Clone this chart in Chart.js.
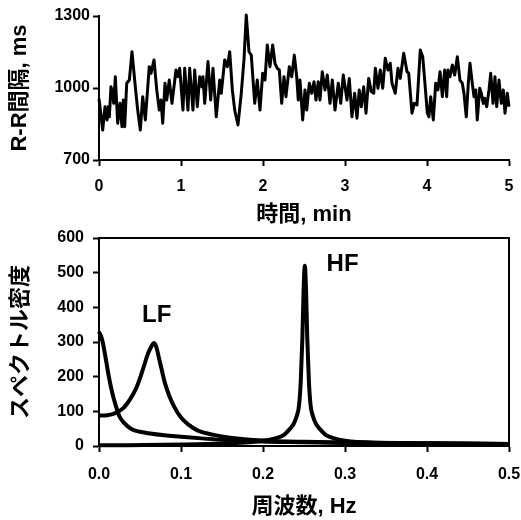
<!DOCTYPE html>
<html><head><meta charset="utf-8">
<script src="https://cdn.jsdelivr.net/npm/chart.js@4.4.1/dist/chart.umd.min.js"></script>
<style>
html,body{margin:0;padding:0;background:#fff;}
#wrap{position:relative;width:521px;height:520px;}
canvas{position:absolute;left:0;}
</style></head><body>
<div id="wrap">
<canvas id="c1" width="521" height="230" style="top:0"></canvas>
<canvas id="c2" width="521" height="290" style="top:230px"></canvas>
</div>
<script>
// ---- Top panel: R-R interval time series ----
const rrTime = [0.000,0.045,0.073,0.098,0.113,0.126,0.146,0.167,0.179,0.199,0.228,0.256,0.280,0.296,0.313,0.338,0.370,0.402,0.443,0.472,0.504,0.533,0.565,0.613,0.634,0.671,0.704,0.735,0.756,0.777,0.805,0.826,0.857,0.890,0.939,0.960,
0.984,1.024,1.045,1.085,1.106,1.146,1.167,1.199,1.228,1.256,1.268,1.289,1.329,1.362,1.390,1.430,1.472,1.491,1.533,1.565,1.594,1.626,1.655,1.695,1.735,1.768,1.796,1.829,1.857,1.899,1.930,
1.963,1.996,2.024,2.052,2.085,2.118,2.146,2.174,2.199,2.228,2.256,2.280,2.321,2.350,2.382,2.411,2.430,2.451,2.484,2.512,2.533,2.565,2.594,2.622,2.646,2.674,2.695,2.723,2.756,2.784,2.817,2.845,2.878,2.918,2.948,2.979,
3.024,3.052,3.085,3.118,3.146,3.174,3.199,3.228,3.256,3.289,3.321,3.350,3.370,3.402,3.430,3.460,3.491,3.524,3.552,3.573,3.613,3.646,3.674,3.716,3.756,3.777,3.817,3.845,3.878,3.918,3.948,3.970,
4.004,4.024,4.045,4.077,4.106,4.134,4.159,4.187,4.216,4.240,4.256,4.280,4.309,4.338,4.370,4.402,4.430,4.451,4.479,4.504,4.524,4.552,4.573,4.594,4.613,4.643,4.662,4.687,4.704,4.728,4.756,4.777,4.805,4.829,4.850,4.878,4.906,4.930,4.951,4.979,5.000];
const rrValue = [955,825,922,867,922,880,1005,978,936,1047,853,936,839,950,839,1020,1033,1151,1005,908,825,964,867,1089,1061,1117,992,908,950,853,1020,950,1033,936,1075,1047,
1082,908,1082,908,1082,908,1075,922,1047,1005,1047,936,1110,950,1082,880,1033,978,1117,1089,1151,992,908,846,978,1117,1304,1151,1137,936,1033,
908,1061,1033,1179,1089,1179,1103,1082,1075,936,1047,964,1089,1047,1137,1047,950,1033,867,992,908,1020,978,1026,950,1026,950,1068,992,1054,936,1033,908,1020,936,1054,
950,1040,880,978,874,992,922,1005,895,1040,985,978,1082,999,1075,999,1124,1075,1103,1020,978,1082,1040,1145,1068,1061,895,936,929,1158,1130,1040,
895,880,964,867,1020,992,1068,964,1075,964,1075,1047,1096,1054,1130,1033,1020,978,880,1020,1103,1020,964,992,867,999,978,936,957,922,992,1061,936,1047,922,1033,936,992,895,978,922];
const topXTicks = [0,1,2,3,4,5];
const topYTicks = [700,1000,1300];

// ---- Bottom panel: spectral density ----
const vlfFreq  = [0,0.004,0.008,0.012,0.016,0.02,0.025,0.03,0.04,0.05,0.06,0.08,0.1,0.125,0.15,0.2,0.25,0.3,0.4,0.5];
const vlfPower = [330,305,255,200,155,120,85,68,48,41,37,31,27,22,18,13,11,9,7,6];
const lfFreq   = [0,0.01,0.02,0.03,0.038,0.045,0.05,0.055,0.06,0.064,0.067,0.070,0.073,0.076,0.08,0.086,0.092,0.1,0.11,0.12,0.14,0.16,0.2,0.25,0.3,0.4,0.5];
const lfPower  = [88,89,95,110,135,165,196,232,268,288,297,285,255,225,185,143,112,82,60,45,32,24,16,12,10,8,6];
const hfFreq   = [0,0.1,0.15,0.2,0.219,0.226,0.233,0.237,0.241,0.244,0.246,0.248,0.2495,0.251,0.2525,0.254,0.256,0.258,0.261,0.265,0.269,0.276,0.283,0.3,0.35,0.4,0.5];
const hfPower  = [2,4,7,15,25,33,50,62,85,118,185,310,450,520,450,310,185,118,85,62,50,33,25,15,9,7,5];
const botXTicks = [0,0.1,0.2,0.3,0.4,0.5];
const botYTicks = [0,100,200,300,400,500,600];
const peakLabels = ['LF','HF'];
const peakLabelX = [0.0704,0.297];
const peakLabelY = [378,525];

const FONT = "'Liberation Sans', Arial, 'Noto Sans CJK JP', sans-serif";
Chart.defaults.font.family = FONT;
Chart.defaults.font.weight = 'bold';
Chart.defaults.color = '#000';

const pts = (xs, ys) => xs.map((x, i) => ({x: x, y: ys[i]}));
const setTicks = arr => s => { s.ticks = arr.map(v => ({value: v})); };
const fixSize = (prop, size) => s => {
  s[prop] = size;
  s.paddingLeft = 0; s.paddingRight = 0; s.paddingTop = 0; s.paddingBottom = 0;
};

function axis(opts) {
  return Object.assign({
    type: 'linear',
    grid: {drawOnChartArea: false, drawTicks: true, tickLength: 6, tickWidth: 2, tickColor: '#000'},
    border: {display: true, color: '#000', width: 2},
  }, opts);
}

new Chart(document.getElementById('c1'), {
  type: 'line',
  data: {datasets: [{data: pts(rrTime, rrValue), borderColor: '#000', borderWidth: 3, pointRadius: 0, tension: 0, borderJoinStyle: 'round', clip: false}]},
  options: {
    responsive: false, animation: false, devicePixelRatio: 1,
    layout: {padding: {left: 0, right: 12, top: 16, bottom: 0}},
    plugins: {legend: {display: false}, tooltip: {enabled: false}},
    scales: {
      x: axis({min: 0, max: 5, afterBuildTicks: setTicks(topXTicks), afterFit: fixSize('height', 70),
        ticks: {color: '#000', font: {size: 16, weight: 'bold'}, padding: 11, maxRotation: 0, autoSkip: false, callback: v => String(v)},
        title: {display: true, text: '時間, min', color: '#000', font: {size: 22, weight: 'bold'}, padding: {top: 0, bottom: 2}}}),
      y: axis({min: 700, max: 1300, afterBuildTicks: setTicks(topYTicks), afterFit: fixSize('width', 99),
        ticks: {color: '#000', font: {size: 16, weight: 'bold'}, padding: 3, autoSkip: false, callback: v => String(v)},
        title: {display: true, text: 'R-R間隔, ms', color: '#000', font: {size: 22, weight: 'bold'}, padding: {top: 7, bottom: 0}}})
    }
  }
});

const framePlugin = {
  id: 'frame',
  afterDatasetsDraw(chart) {
    const {ctx, chartArea: a} = chart;
    ctx.save();
    ctx.strokeStyle = '#000'; ctx.lineWidth = 2;
    ctx.beginPath();
    ctx.moveTo(a.left, a.top); ctx.lineTo(a.right, a.top); ctx.lineTo(a.right, a.bottom);
    ctx.stroke();
    ctx.restore();
  }
};
const peakLabelPlugin = {
  id: 'peakLabels',
  afterDraw(chart) {
    const {ctx, scales} = chart;
    ctx.save();
    ctx.fillStyle = '#000';
    ctx.font = 'bold 24px ' + FONT;
    ctx.textAlign = 'center'; ctx.textBaseline = 'middle';
    peakLabels.forEach((t, i) => {
      ctx.fillText(t, scales.x.getPixelForValue(peakLabelX[i]), scales.y.getPixelForValue(peakLabelY[i]));
    });
    ctx.restore();
  }
};

const curve = (xs, ys) => ({data: pts(xs, ys), borderColor: '#000', borderWidth: 4, pointRadius: 0, cubicInterpolationMode: 'monotone', borderJoinStyle: 'round', clip: false});

new Chart(document.getElementById('c2'), {
  type: 'line',
  data: {datasets: [curve(vlfFreq, vlfPower), curve(lfFreq, lfPower), curve(hfFreq, hfPower)]},
  options: {
    responsive: false, animation: false, devicePixelRatio: 1,
    layout: {padding: {left: 0, right: 12, top: 8, bottom: 0}},
    plugins: {legend: {display: false}, tooltip: {enabled: false}},
    scales: {
      x: axis({min: 0, max: 0.5, afterBuildTicks: setTicks(botXTicks), afterFit: fixSize('height', 74),
        ticks: {color: '#000', font: {size: 16, weight: 'bold'}, padding: 13, maxRotation: 0, autoSkip: false, callback: v => Number(v).toFixed(1)},
        title: {display: true, text: '周波数, Hz', color: '#000', font: {size: 22, weight: 'bold'}, padding: {top: 0, bottom: 0}}}),
      y: axis({min: 0, max: 600, afterBuildTicks: setTicks(botYTicks), afterFit: fixSize('width', 99),
        ticks: {color: '#000', font: {size: 16, weight: 'bold'}, padding: 9, autoSkip: false, callback: v => String(v)},
        title: {display: true, text: 'スペクトル密度', color: '#000', font: {size: 22, weight: 'bold'}, padding: {top: 8, bottom: 0}}})
    }
  },
  plugins: [framePlugin, peakLabelPlugin]
});
</script>
</body></html>
